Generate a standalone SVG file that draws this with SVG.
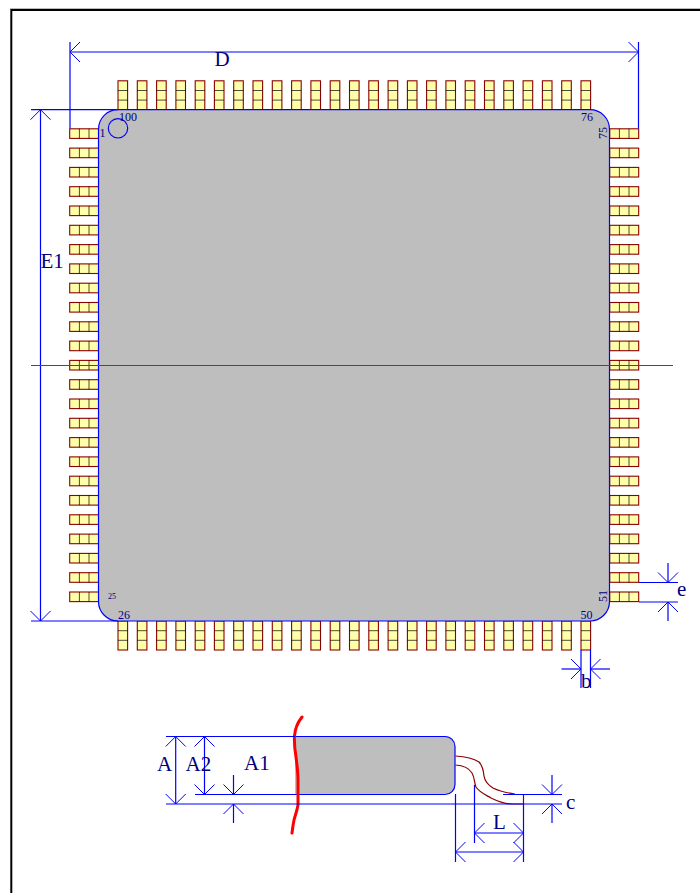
<svg xmlns="http://www.w3.org/2000/svg" xmlns:xlink="http://www.w3.org/1999/xlink" width="700" height="893" viewBox="0 0 700 893">
<style>
.dim{fill:none;stroke:#0000ff;stroke-width:1.2}
.arr{marker-end:url(#ah)}
.both{marker-start:url(#ah);marker-end:url(#ah)}
.pin{fill:#ffffaa;stroke:#8b0000;stroke-width:1.1}
.div{fill:none;stroke:#000;stroke-width:.7}
.lead{fill:none;stroke:#8b0000;stroke-width:1.2}
text{font-family:"Liberation Serif","Times New Roman",serif;fill:#000080}
.big{font-size:21px}
.sm{font-size:12px}
</style>
<defs>
<marker id="ah" markerUnits="userSpaceOnUse" markerWidth="24" markerHeight="24" viewBox="-12 -12 24 24" refX="0" refY="0" orient="auto-start-reverse" overflow="visible">
<path d="M-10,-10L0,0L-10,10" fill="none" stroke="#0000ff" stroke-width="1"/>
</marker>
<g id="hp"><rect class="pin" x="0" y="0" width="29" height="9.6"/><path class="div" d="M9.7,0V9.6M19.3,0V9.6"/></g>
<g id="vp"><rect class="pin" x="0" y="0" width="9.6" height="29"/><path class="div" d="M0,9.7H9.6M0,19.3H9.6"/></g>
</defs>
<g id="frame"><path d="M700,8.5H10" fill="none" stroke="#bbb" stroke-width="1"/><path d="M700,10H11.3V893" fill="none" stroke="#000" stroke-width="2"/></g>
<g id="pins-top">
<use href="#vp" x="118" y="80.8"/><use href="#vp" x="137.3" y="80.8"/><use href="#vp" x="156.6" y="80.8"/><use href="#vp" x="175.9" y="80.8"/><use href="#vp" x="195.2" y="80.8"/><use href="#vp" x="214.4" y="80.8"/><use href="#vp" x="233.7" y="80.8"/><use href="#vp" x="253" y="80.8"/><use href="#vp" x="272.3" y="80.8"/><use href="#vp" x="291.6" y="80.8"/><use href="#vp" x="310.9" y="80.8"/><use href="#vp" x="330.2" y="80.8"/><use href="#vp" x="349.5" y="80.8"/><use href="#vp" x="368.8" y="80.8"/><use href="#vp" x="388.1" y="80.8"/><use href="#vp" x="407.4" y="80.8"/><use href="#vp" x="426.6" y="80.8"/><use href="#vp" x="445.9" y="80.8"/><use href="#vp" x="465.2" y="80.8"/><use href="#vp" x="484.5" y="80.8"/><use href="#vp" x="503.8" y="80.8"/><use href="#vp" x="523.1" y="80.8"/><use href="#vp" x="542.4" y="80.8"/><use href="#vp" x="561.7" y="80.8"/><use href="#vp" x="581" y="80.8"/>
</g>
<g id="pins-bottom">
<use href="#vp" x="118" y="621"/><use href="#vp" x="137.3" y="621"/><use href="#vp" x="156.6" y="621"/><use href="#vp" x="175.9" y="621"/><use href="#vp" x="195.2" y="621"/><use href="#vp" x="214.4" y="621"/><use href="#vp" x="233.7" y="621"/><use href="#vp" x="253" y="621"/><use href="#vp" x="272.3" y="621"/><use href="#vp" x="291.6" y="621"/><use href="#vp" x="310.9" y="621"/><use href="#vp" x="330.2" y="621"/><use href="#vp" x="349.5" y="621"/><use href="#vp" x="368.8" y="621"/><use href="#vp" x="388.1" y="621"/><use href="#vp" x="407.4" y="621"/><use href="#vp" x="426.6" y="621"/><use href="#vp" x="445.9" y="621"/><use href="#vp" x="465.2" y="621"/><use href="#vp" x="484.5" y="621"/><use href="#vp" x="503.8" y="621"/><use href="#vp" x="523.1" y="621"/><use href="#vp" x="542.4" y="621"/><use href="#vp" x="561.7" y="621"/><use href="#vp" x="581" y="621"/>
</g>
<g id="pins-left">
<use href="#hp" x="69.7" y="128.8"/><use href="#hp" x="69.7" y="148.1"/><use href="#hp" x="69.7" y="167.4"/><use href="#hp" x="69.7" y="186.7"/><use href="#hp" x="69.7" y="206"/><use href="#hp" x="69.7" y="225.3"/><use href="#hp" x="69.7" y="244.6"/><use href="#hp" x="69.7" y="263.9"/><use href="#hp" x="69.7" y="283.2"/><use href="#hp" x="69.7" y="302.5"/><use href="#hp" x="69.7" y="321.8"/><use href="#hp" x="69.7" y="341.1"/><use href="#hp" x="69.7" y="360.4"/><use href="#hp" x="69.7" y="379.7"/><use href="#hp" x="69.7" y="399"/><use href="#hp" x="69.7" y="418.3"/><use href="#hp" x="69.7" y="437.6"/><use href="#hp" x="69.7" y="456.9"/><use href="#hp" x="69.7" y="476.2"/><use href="#hp" x="69.7" y="495.5"/><use href="#hp" x="69.7" y="514.8"/><use href="#hp" x="69.7" y="534.1"/><use href="#hp" x="69.7" y="553.4"/><use href="#hp" x="69.7" y="572.7"/><use href="#hp" x="69.7" y="592"/>
</g>
<g id="pins-right">
<use href="#hp" x="609.7" y="128.8"/><use href="#hp" x="609.7" y="148.1"/><use href="#hp" x="609.7" y="167.4"/><use href="#hp" x="609.7" y="186.7"/><use href="#hp" x="609.7" y="206"/><use href="#hp" x="609.7" y="225.3"/><use href="#hp" x="609.7" y="244.6"/><use href="#hp" x="609.7" y="263.9"/><use href="#hp" x="609.7" y="283.2"/><use href="#hp" x="609.7" y="302.5"/><use href="#hp" x="609.7" y="321.8"/><use href="#hp" x="609.7" y="341.1"/><use href="#hp" x="609.7" y="360.4"/><use href="#hp" x="609.7" y="379.7"/><use href="#hp" x="609.7" y="399"/><use href="#hp" x="609.7" y="418.3"/><use href="#hp" x="609.7" y="437.6"/><use href="#hp" x="609.7" y="456.9"/><use href="#hp" x="609.7" y="476.2"/><use href="#hp" x="609.7" y="495.5"/><use href="#hp" x="609.7" y="514.8"/><use href="#hp" x="609.7" y="534.1"/><use href="#hp" x="609.7" y="553.4"/><use href="#hp" x="609.7" y="572.7"/><use href="#hp" x="609.7" y="592"/>
</g>
<g id="package-top">
<rect x="98.5" y="109.7" width="511" height="511.3" rx="19.5" ry="19.5" fill="#bebebe" stroke="#0000ff" stroke-width="1.2"/>
<circle cx="118" cy="128.3" r="9.7" fill="none" stroke="#0000ff" stroke-width="1.2"/>
<text class="sm" x="119" y="120.5">100</text>
<text class="sm" x="99.5" y="136.5">1</text>
<text class="sm" x="581" y="120.5">76</text>
<text class="sm" transform="translate(607,139) rotate(-90)">75</text>
<text font-size="8" x="108" y="599">25</text>
<text class="sm" x="118" y="618.5">26</text>
<text class="sm" x="580.5" y="618.5">50</text>
<text class="sm" transform="translate(607,602) rotate(-90)">51</text>
</g>
<g id="package-side">
<path d="M295,736.5H445a10,10 0 0 1 10,10V784.5a10,10 0 0 1 -10,10H295Z" fill="#bebebe" stroke="none"/>
<path d="M295,736.5H445a10,10 0 0 1 10,10V784.5a10,10 0 0 1 -10,10H295" fill="none" stroke="#0000ff" stroke-width="1.2"/>
<path class="lead" d="M455.5,756C465,756.5 473,758 479,762C483,766 483.5,771 484,776C485,782 488,785 493,788C499,791 507,793 515,794"/>
<path class="lead" d="M455.5,765C463,765.5 469,768 472,773C475,778 474,783 476,787C479,792 486,795 491,798C497,801 504,804 512,804H523.5V794.5"/>
<path d="M302,717C298,722 295,729 294.5,736C294,745 295,751 296,757C297,765 298,772 298,780L298,805C297,811 295,816 294,820C293,825 292.5,829 292,833" fill="none" stroke="#ff0000" stroke-width="3" stroke-linecap="round"/>
</g>
<g id="connectors">
<path class="dim" d="M70,42V128.5M638.5,42V128.5M31,109.7H118M31,621H118"/>
<path class="dim both" d="M70,52H638.5"/>
<path class="dim both" d="M40.5,109.7V621"/>
<path class="dim" d="M639,582.5H678M639,602H678"/>
<path class="dim arr" d="M668,563V582.5"/>
<path class="dim arr" d="M668,621V602"/>
<path class="dim" d="M581,650V688M590.5,650V688"/>
<path class="dim arr" d="M561.5,669H581"/>
<path class="dim arr" d="M610,669H590.5"/>
<path class="dim" d="M166,736.5H295M195,794.5H295M166,804H562M503,794.5H562"/>
<path class="dim both" d="M175.7,736.5V804"/>
<path class="dim both" d="M204.5,736.5V794.5"/>
<path class="dim arr" d="M233.5,775V794.5"/>
<path class="dim arr" d="M233.5,823V804"/>
<path class="dim arr" d="M552,775V794.5"/>
<path class="dim arr" d="M552,823V804"/>
<path class="dim" d="M474.5,785V843M523.5,804V862M455.5,794V862"/>
<path class="dim both" d="M474.5,833H523.5"/>
<path class="dim both" d="M455.5,852H523.5"/>
<path d="M31,365.5H673" fill="none" stroke="#ff0000" stroke-width="1"/>
</g>
<g id="labels">
<text class="big" x="214.5" y="66">D</text>
<text class="big" x="40.5" y="268">E1</text>
<text class="big" x="677" y="596">e</text>
<text class="big" x="581" y="688">b</text>
<text class="big" x="157" y="771">A</text>
<text class="big" x="185.5" y="771">A2</text>
<text class="big" x="244" y="770">A1</text>
<text class="big" x="493" y="829">L</text>
<text class="big" x="566" y="809">c</text>
</g>
</svg>
